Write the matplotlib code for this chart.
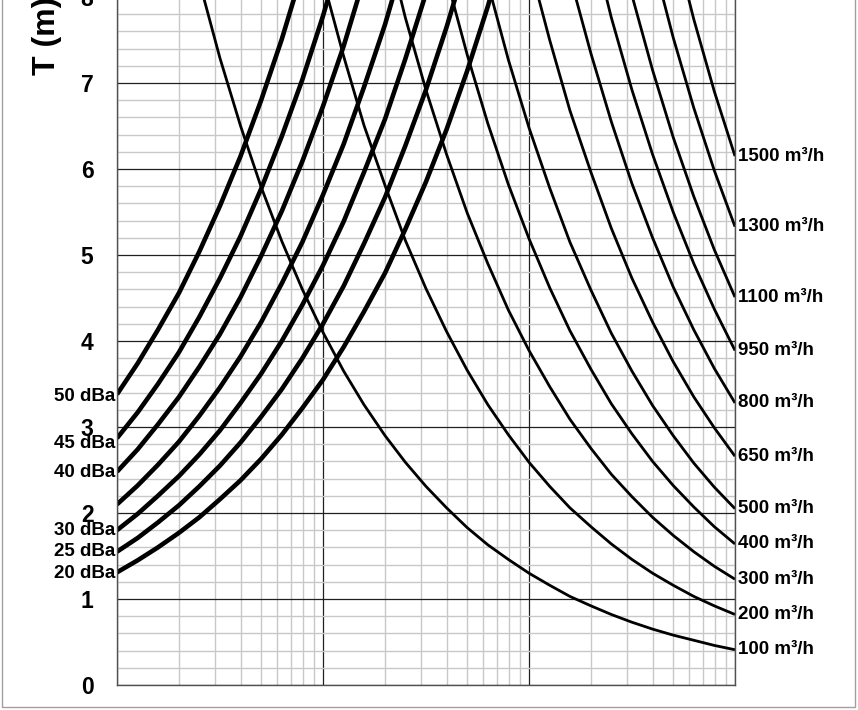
import matplotlib
matplotlib.use("Agg")
import matplotlib.pyplot as plt
from matplotlib.ticker import MultipleLocator, LogLocator, NullFormatter
from matplotlib.patches import Rectangle

plt.rcParams['font.family'] = ['Liberation Sans', 'DejaVu Sans']
plt.rcParams['font.weight'] = 'bold'

# x positions (log scale, 10 steps per decade) at which values were read
x_grid = [1, 1.26, 1.58, 2.0, 2.51, 3.16, 3.98, 5.01, 6.31, 7.94,
          10, 12.6, 15.8, 20, 25.1, 31.6, 39.8, 50.1, 63.1, 79.4,
          100, 126, 158, 200, 251, 316, 398, 501, 631, 794, 1000]

# noise curves (thick, rising), read from the left edge onwards
t_20dba = [1.31, 1.45, 1.60, 1.77, 1.95, 2.16, 2.38, 2.63, 2.91, 3.22,
           3.55, 3.93, 4.34, 4.79, 5.30, 5.85, 6.46, 7.14, 7.89, 8.72]
t_25dba = [1.55, 1.71, 1.89, 2.09, 2.31, 2.55, 2.82, 3.12, 3.44, 3.80,
           4.20, 4.64, 5.13, 5.67, 6.27, 6.92, 7.65, 8.45]
t_30dba = [1.80, 1.99, 2.20, 2.43, 2.68, 2.96, 3.28, 3.62, 4.00, 4.42,
           4.88, 5.39, 5.96, 6.58, 7.28, 8.04]
t_35dba = [2.10, 2.32, 2.56, 2.83, 3.13, 3.46, 3.82, 4.22, 4.67, 5.15,
           5.70, 6.29, 6.95, 7.68, 8.49]
t_40dba = [2.48, 2.74, 3.03, 3.35, 3.70, 4.08, 4.51, 4.99, 5.51, 6.09,
           6.73, 7.43, 8.21]
t_45dba = [2.87, 3.17, 3.50, 3.87, 4.28, 4.73, 5.22, 5.77, 6.38, 7.04,
           7.78, 8.60]
t_50dba = [3.38, 3.74, 4.13, 4.56, 5.04, 5.57, 6.15, 6.80, 7.51, 8.30]

dba_curves = [t_20dba, t_25dba, t_30dba, t_35dba, t_40dba, t_45dba, t_50dba]
dba_labels = ['20 dBa', '25 dBa', '30 dBa', None, '40 dBa', '45 dBa', '50 dBa']
dba_label_y = [1.30, 1.55, 1.80, None, 2.47, 2.81, 3.36]

# airflow curves (thin, falling), values end at the right edge
t_100 = [8.18, 7.29, 6.50, 5.79, 5.16, 4.60, 4.10, 3.65, 3.26, 2.90,
         2.59, 2.31, 2.06, 1.83, 1.63, 1.46, 1.30, 1.16, 1.03, 0.92,
         0.82, 0.73, 0.65, 0.58, 0.52, 0.46, 0.41]
t_200 = [8.20, 7.31, 6.51, 5.81, 5.17, 4.61, 4.11, 3.66, 3.26, 2.91,
         2.59, 2.31, 2.06, 1.84, 1.64, 1.46, 1.30, 1.16, 1.03, 0.92, 0.82]
t_300 = [8.71, 7.76, 6.92, 6.17, 5.49, 4.90, 4.36, 3.89, 3.47, 3.09,
         2.75, 2.45, 2.19, 1.95, 1.74, 1.55, 1.38, 1.23]
t_400 = [8.22, 7.33, 6.53, 5.82, 5.19, 4.62, 4.12, 3.67, 3.27, 2.92,
         2.60, 2.32, 2.07, 1.84, 1.64]
t_500 = [8.16, 7.27, 6.48, 5.78, 5.15, 4.59, 4.09, 3.65, 3.25, 2.90,
         2.58, 2.30, 2.05]
t_650 = [8.41, 7.50, 6.68, 5.96, 5.31, 4.73, 4.22, 3.76, 3.35, 2.99, 2.66]
t_800 = [8.24, 7.34, 6.55, 5.83, 5.20, 4.63, 4.13, 3.68, 3.28]
t_950 = [8.71, 7.76, 6.92, 6.17, 5.50, 4.90, 4.37, 3.89]
t_1100 = [8.02, 7.15, 6.37, 5.68, 5.06, 4.51]
t_1300 = [8.45, 7.53, 6.71, 5.98, 5.33]
t_1500 = [8.69, 7.74, 6.90, 6.15]

flow_curves = [t_100, t_200, t_300, t_400, t_500, t_650, t_800, t_950,
               t_1100, t_1300, t_1500]
flow_labels = ['100 m³/h', '200 m³/h', '300 m³/h', '400 m³/h', '500 m³/h',
               '650 m³/h', '800 m³/h', '950 m³/h', '1100 m³/h', '1300 m³/h',
               '1500 m³/h']

y_ticks = [0, 1, 2, 3, 4, 5, 6, 7, 8]

fig = plt.figure(figsize=(8.58, 7.10), dpi=100)
ax = fig.add_axes([117 / 858, 25 / 710, 618 / 858, 688 / 710])

ax.set_xscale('log')
ax.set_xlim(1, 1000)
ax.set_ylim(0, 8)

ax.xaxis.set_major_locator(LogLocator(base=10))
ax.xaxis.set_minor_locator(LogLocator(base=10, subs=range(2, 10)))
ax.xaxis.set_major_formatter(NullFormatter())
ax.xaxis.set_minor_formatter(NullFormatter())
ax.set_yticks(y_ticks)
ax.yaxis.set_minor_locator(MultipleLocator(0.2))

ax.grid(which='minor', color='#c8c8c8', lw=1.0)
ax.grid(which='major', color='#202020', lw=0.9)
ax.set_axisbelow(True)
ax.tick_params(which='both', length=0)
ax.tick_params(axis='y', pad=17, labelsize=16.5)
for s in ax.spines.values():
    s.set_color('#505050')
    s.set_linewidth(1.0)

for t in dba_curves:
    ax.plot(x_grid[:len(t)], t, color='black', lw=3.3, solid_capstyle='butt')

for t in flow_curves:
    ax.plot(x_grid[-len(t):], t, color='black', lw=2.0, solid_capstyle='butt')

for lab, y in zip(dba_labels, dba_label_y):
    if lab is None:
        continue
    ax.annotate(lab, (1, y), xytext=(-1, 0), textcoords='offset points',
                ha='right', va='center', fontsize=13.5, fontweight='bold')

for lab, t in zip(flow_labels, flow_curves):
    ax.annotate(lab, (1000, t[-1]), xytext=(2, 0), textcoords='offset points',
                ha='left', va='center', fontsize=13.5, fontweight='bold',
                annotation_clip=False)

fig.text(47 / 858, 1 - 36 / 710, 'T (m)', rotation=90, ha='center',
         va='center', fontsize=23, fontweight='bold')

# grey frame round the whole picture
fig.patches.append(Rectangle((2 / 858, 3 / 710), 853 / 858, 1.0,
                             transform=fig.transFigure, fill=False,
                             edgecolor='#a0a0a0', lw=1.0))

fig.savefig('out.png', dpi=100)
